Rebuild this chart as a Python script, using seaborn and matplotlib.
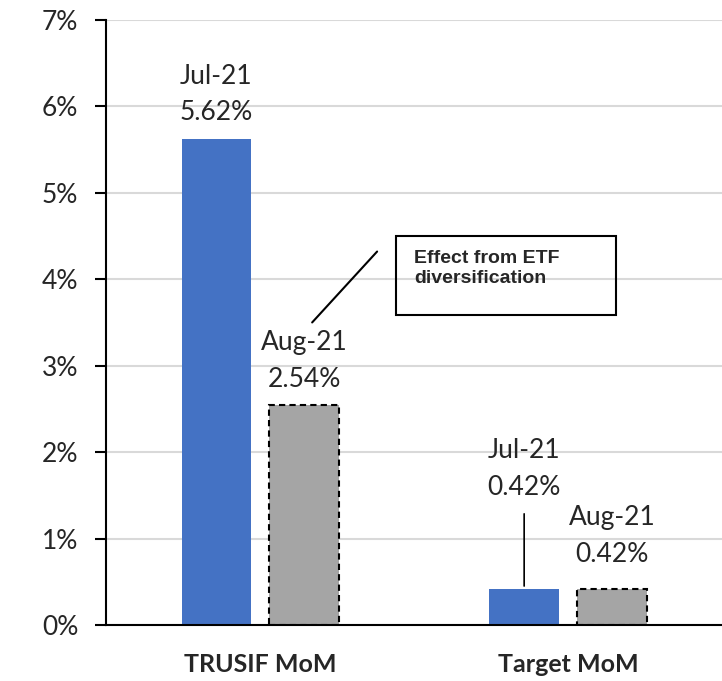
import pandas as pd
import matplotlib
matplotlib.use("Agg")
import matplotlib.pyplot as plt
import matplotlib.patches as mpatches
import seaborn as sns

# data
categories = ["TRUSIF MoM", "Target MoM"]
months = ["Jul-21", "Aug-21"]
jul_values = [5.62, 0.42]
aug_values = [2.54, 0.42]

df = pd.DataFrame({
    "cat": categories * 2,
    "month": [months[0]] * 2 + [months[1]] * 2,
    "value": jul_values + aug_values,
})

sns.set_style("white")
plt.rcParams["font.family"] = ["Lato", "DejaVu Sans"]

fig = plt.figure(figsize=(7.22, 6.81), dpi=100)
ax = fig.add_axes([0.147, 0.082, 0.853, 0.889])

sns.barplot(data=df, x="cat", y="value", hue="month", order=categories,
            hue_order=months, palette=["#4472C4", "#A5A5A5"],
            width=0.57, gap=0.21, saturation=1, legend=False, ax=ax)

# dashed outline on the Aug bars
for p in ax.containers[1]:
    p.set_edgecolor("black")
    p.set_linestyle((0, (3, 2)))
    p.set_linewidth(1.5)
for p in ax.containers[0]:
    p.set_edgecolor("none")

# data labels (offsets in points: [jul, aug] per category)
offsets = [[10, 10], [64, 16]]
for ci, cont in enumerate(ax.containers):
    for bi, p in enumerate(cont):
        x = p.get_x() + p.get_width() / 2
        h = p.get_height()
        txt = f"{months[ci]}\n{h:.2f}%"
        ax.annotate(txt, xy=(x, h), xytext=(0, offsets[bi][ci]), textcoords="offset points",
                    ha="center", va="bottom", fontsize=19, linespacing=1.58)
        if ci == 0 and bi == 1:
            # leader line for the pushed-up label
            ax.annotate("", xy=(x, h), xytext=(0, 56), textcoords="offset points",
                        arrowprops=dict(arrowstyle="-", color="black", lw=1.2))

# callout box
ax.add_patch(mpatches.Rectangle((0.44, 3.59), 0.716, 0.91, fill=False,
                                edgecolor="black", lw=1.5, clip_on=False, zorder=5))
ax.text(0.5, 4.34, "Effect from ETF\ndiversification", fontsize=14,
        fontweight="bold", family=["Liberation Sans", "DejaVu Sans"],
        ha="left", va="top", zorder=6, linespacing=1.25)
ax.plot([0.38, 0.169], [4.32, 3.50], color="black", lw=1.5, zorder=6)

ax.set_ylim(0, 7)
ax.set_xlim(-0.5, 1.5)
ax.set_yticks(range(0, 8))
ax.set_yticklabels([f"{v}%" for v in range(0, 8)], fontsize=19)
ax.set_xticks(range(len(categories)))
ax.set_xticklabels(categories, fontsize=18, fontweight="bold")
ax.tick_params(axis="x", length=0, pad=20)
ax.tick_params(axis="y", length=8, width=1.5, color="black", direction="out", left=True, pad=12)
ax.yaxis.grid(True, color="#D9D9D9", lw=1.5)
ax.set_axisbelow(True)
ax.set_xlabel("")
ax.set_ylabel("")

sns.despine(ax=ax, top=True, right=True)
ax.spines["left"].set_color("black")
ax.spines["left"].set_linewidth(1.5)
ax.spines["bottom"].set_color("black")
ax.spines["bottom"].set_linewidth(1.5)

fig.savefig("out.png", dpi=100)
